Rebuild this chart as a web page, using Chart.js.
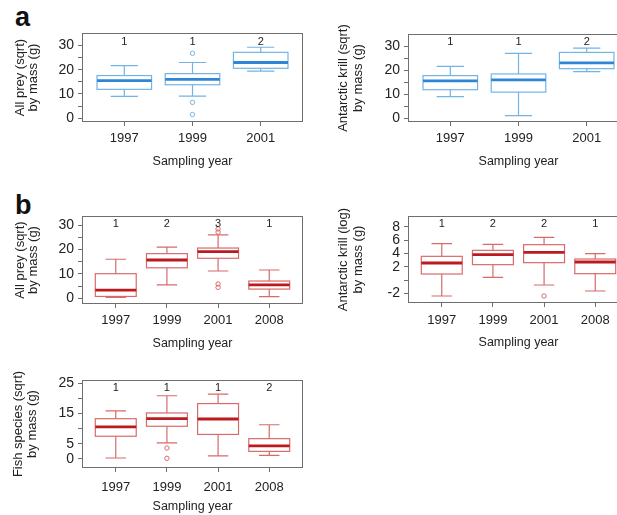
<!DOCTYPE html>
<html>
<head>
<meta charset="utf-8">
<script src="https://cdn.jsdelivr.net/npm/chart.js@4.4.1/dist/chart.umd.min.js"></script>
<style>
html, body { margin:0; padding:0; width:617px; height:515px; overflow:hidden; background:#fff; }
canvas { position:absolute; }
.lab { position:absolute; font-family:"Liberation Sans", Arial, sans-serif; font-weight:bold; font-size:27px; line-height:27px; color:#111; }
</style>
</head>
<body>
<div class="lab" style="left:15px; top:4px;">a</div>
<div class="lab" style="left:15px; top:192px;">b</div>
<canvas id="c1" width="310" height="175" style="left:0px; top:0px;"></canvas>
<canvas id="c2" width="320" height="175" style="left:320px; top:0px;"></canvas>
<canvas id="c3" width="310" height="167" style="left:0px; top:190px;"></canvas>
<canvas id="c4" width="320" height="167" style="left:320px; top:190px;"></canvas>
<canvas id="c5" width="310" height="155" style="left:0px; top:360px;"></canvas>
<script>
// ---------- data ----------
const catsA = ['1997', '1999', '2001'];
const catsB = ['1997', '1999', '2001', '2008'];

// panel a: all prey (sqrt)
const aPreyLow  = [9.0, 9.1, 19.4];
const aPreyQ1   = [11.9, 13.8, 20.6];
const aPreyMed  = [15.5, 16.0, 23.0];
const aPreyQ3   = [17.6, 18.4, 27.2];
const aPreyHigh = [21.7, 23.0, 29.3];
const aPreyOutCat = ['1999', '1999', '1999'];
const aPreyOutVal = [26.8, 6.5, 1.5];
const aPreyGroups = ['1', '1', '2'];

// panel a: Antarctic krill (sqrt)
const aKrillLow  = [9.0, 1.1, 19.5];
const aKrillQ1   = [11.9, 10.9, 20.7];
const aKrillMed  = [15.6, 16.0, 23.1];
const aKrillQ3   = [17.8, 18.5, 27.5];
const aKrillHigh = [21.7, 27.1, 29.3];
const aKrillOutCat = [];
const aKrillOutVal = [];
const aKrillGroups = ['1', '1', '2'];

// panel b: all prey (sqrt)
const bPreyLow  = [0.4, 5.5, 11.2, 0.7];
const bPreyQ1   = [0.8, 12.5, 16.4, 3.8];
const bPreyMed  = [3.4, 15.7, 19.1, 5.5];
const bPreyQ3   = [10.1, 18.3, 20.6, 7.1];
const bPreyHigh = [16.0, 21.0, 26.0, 11.6];
const bPreyOutCat = ['2001', '2001', '2001', '2001'];
const bPreyOutVal = [28.4, 27.1, 5.9, 4.5];
const bPreyGroups = ['1', '2', '3', '1'];

// panel b: Antarctic krill (log)
const bKrillLow  = [-2.4, 0.4, -0.75, -1.65];
const bKrillQ1   = [0.9, 2.3, 2.6, 0.95];
const bKrillMed  = [2.55, 3.8, 4.15, 2.7];
const bKrillQ3   = [3.55, 4.45, 5.3, 3.15];
const bKrillHigh = [5.45, 5.35, 6.4, 3.95];
const bKrillOutCat = ['2001'];
const bKrillOutVal = [-2.4];
const bKrillGroups = ['1', '2', '2', '1'];

// panel b: fish species (sqrt)
const fishLow  = [0.3, 5.3, 1.0, 1.2];
const fishQ1   = [7.5, 10.8, 8.1, 2.5];
const fishMed  = [10.6, 13.3, 13.2, 4.3];
const fishQ3   = [13.3, 15.2, 18.3, 6.7];
const fishHigh = [15.9, 20.9, 21.4, 11.3];
const fishOutCat = ['1999', '1999'];
const fishOutVal = [3.6, 0.2];
const fishGroups = ['1', '1', '1', '2'];

// y axis ticks
const yTicksSqrt30 = [0, 5, 10, 15, 20, 25, 30];
const yLabelsSqrt30 = ['0', '', '10', '', '20', '', '30'];
const yTicksLog = [-2, 0, 2, 4, 6, 8];
const yLabelsLog = ['-2', '', '2', '4', '6', '8'];
const yTicksFish = [0, 5, 10, 15, 20, 25];
const yLabelsFish = ['0', '5', '', '15', '', '25'];

// ---------- styling ----------
const FONT = '"Liberation Sans", Arial, Helvetica, sans-serif';
const BLUE = { box: '#72b4e6', med: '#2f86d6' };
const RED  = { box: '#d76b6b', med: '#bb1a1f' };
const AXIS = '#6e6e6e';
const TXT  = '#222';

const boxPlugin = {
  id: 'boxes',
  afterDatasetsDraw(chart) {
    const o = chart.options.plugins.boxes;
    const xs = chart.scales.x, ys = chart.scales.y;
    const ctx = chart.ctx;
    const step = xs.getPixelForValue(2) - xs.getPixelForValue(1);
    const bw = 0.8 * step, cw = bw / 2;
    ctx.save();
    for (let i = 0; i < o.cats.length; i++) {
      const cx = xs.getPixelForValue(i + 1);
      const yl = ys.getPixelForValue(o.low[i]);
      const y1 = ys.getPixelForValue(o.q1[i]);
      const ym = ys.getPixelForValue(o.med[i]);
      const y3 = ys.getPixelForValue(o.q3[i]);
      const yh = ys.getPixelForValue(o.high[i]);
      ctx.strokeStyle = o.color.box;
      ctx.lineWidth = 1.2;
      ctx.beginPath();
      ctx.moveTo(cx, y3); ctx.lineTo(cx, yh);
      ctx.moveTo(cx, y1); ctx.lineTo(cx, yl);
      ctx.moveTo(cx - cw / 2, yh); ctx.lineTo(cx + cw / 2, yh);
      ctx.moveTo(cx - cw / 2, yl); ctx.lineTo(cx + cw / 2, yl);
      ctx.stroke();
      ctx.strokeRect(cx - bw / 2, y3, bw, y1 - y3);
      ctx.strokeStyle = o.color.med;
      ctx.lineWidth = 2.8;
      ctx.beginPath();
      ctx.moveTo(cx - bw / 2, ym); ctx.lineTo(cx + bw / 2, ym);
      ctx.stroke();
    }
    // group letters
    ctx.fillStyle = TXT;
    ctx.font = '11px ' + FONT;
    ctx.textAlign = 'center';
    ctx.textBaseline = 'middle';
    const ty = chart.chartArea.top + o.groupOffset;
    for (let i = 0; i < o.groups.length; i++) {
      ctx.fillText(o.groups[i], xs.getPixelForValue(i + 1), ty);
    }
    ctx.restore();
  },
  afterDraw(chart) {
    const a = chart.chartArea, ctx = chart.ctx;
    ctx.save();
    ctx.strokeStyle = AXIS;
    ctx.lineWidth = 1;
    ctx.strokeRect(Math.round(a.left) + 0.5, Math.round(a.top) + 0.5,
                   Math.round(a.right - a.left) - 1, Math.round(a.bottom - a.top) - 1);
    ctx.restore();
  }
};

function makeChart(id, cfg) {
  const n = cfg.cats.length;
  const outData = cfg.outCat.map((c, i) => ({ x: cfg.cats.indexOf(c) + 1, y: cfg.outVal[i] }));
  return new Chart(document.getElementById(id), {
    type: 'scatter',
    data: {
      datasets: [{
        data: outData,
        pointStyle: 'circle',
        pointRadius: 2.2,
        pointHoverRadius: 2.2,
        borderWidth: 1,
        borderColor: cfg.color.box,
        backgroundColor: 'rgba(0,0,0,0)'
      }]
    },
    options: {
      responsive: false,
      animation: false,
      devicePixelRatio: 1,
      layout: { padding: { top: cfg.padTop, right: cfg.padRight, left: 0, bottom: 0 } },
      plugins: {
        legend: { display: false },
        tooltip: { enabled: false },
        boxes: {
          cats: cfg.cats, low: cfg.low, q1: cfg.q1, med: cfg.med, q3: cfg.q3, high: cfg.high,
          color: cfg.color, groups: cfg.groups, groupOffset: cfg.groupOffset
        }
      },
      scales: {
        x: {
          type: 'linear',
          min: 0.5 - 0.04 * n,
          max: n + 0.5 + 0.04 * n,
          afterBuildTicks: (s) => { s.ticks = cfg.cats.map((c, i) => ({ value: i + 1 })); },
          afterFit: (s) => { s.height = cfg.xH; },
          ticks: {
            callback: (v) => cfg.cats[Math.round(v) - 1],
            color: TXT, font: { family: FONT, size: 13 }, padding: cfg.xPad,
            maxRotation: 0, autoSkip: false
          },
          grid: { display: true, drawOnChartArea: false, drawTicks: true, tickLength: 4, color: AXIS },
          border: { display: false },
          title: {
            display: true, text: 'Sampling year', color: TXT,
            font: { family: FONT, size: 12.5, lineHeight: 1.1 },
            padding: { top: 0, bottom: cfg.xTitlePad }
          }
        },
        y: {
          type: 'linear',
          min: cfg.yMin, max: cfg.yMax,
          afterBuildTicks: (s) => { s.ticks = cfg.yTicks.map(v => ({ value: v })); },
          afterFit: (s) => { s.width = cfg.yW; },
          ticks: {
            callback: (v) => { const k = cfg.yTicks.indexOf(v); return k >= 0 ? cfg.yLabels[k] : ''; },
            color: TXT, font: { family: FONT, size: 14 }, padding: 4, autoSkip: false
          },
          grid: { display: true, drawOnChartArea: false, drawTicks: true, tickLength: 4, color: AXIS },
          border: { display: false },
          title: {
            display: true, text: cfg.yTitle, color: TXT,
            font: { family: FONT, size: 13, lineHeight: cfg.yTitleLH },
            padding: { top: cfg.yTitlePad, bottom: 0 }
          }
        }
      }
    },
    plugins: [boxPlugin]
  });
}

makeChart('c1', {
  cats: catsA, low: aPreyLow, q1: aPreyQ1, med: aPreyMed, q3: aPreyQ3, high: aPreyHigh,
  outCat: aPreyOutCat, outVal: aPreyOutVal, groups: aPreyGroups, color: BLUE,
  yMin: -1.6, yMax: 35.2, yTicks: yTicksSqrt30, yLabels: yLabelsSqrt30,
  yTitle: ['All prey (sqrt)', 'by mass (g)'], yTitleLH: 1.05,
  padTop: 33, padRight: 7, yW: 82, xH: 53, xPad: 5, xTitlePad: 7, yTitlePad: 13.3, groupOffset: 8.5
});
makeChart('c2', {
  cats: catsA, low: aKrillLow, q1: aKrillQ1, med: aKrillMed, q3: aKrillQ3, high: aKrillHigh,
  outCat: aKrillOutCat, outVal: aKrillOutVal, groups: aKrillGroups, color: BLUE,
  yMin: -1.6, yMax: 35.2, yTicks: yTicksSqrt30, yLabels: yLabelsSqrt30,
  yTitle: ['Antarctic krill (sqrt)', 'by mass (g)'], yTitleLH: 1.2,
  padTop: 34, padRight: 11, yW: 88, xH: 53, xPad: 5, xTitlePad: 7, yTitlePad: 15.2, groupOffset: 7.5
});
makeChart('c3', {
  cats: catsB, low: bPreyLow, q1: bPreyQ1, med: bPreyMed, q3: bPreyQ3, high: bPreyHigh,
  outCat: bPreyOutCat, outVal: bPreyOutVal, groups: bPreyGroups, color: RED,
  yMin: -2.3, yMax: 33.7, yTicks: yTicksSqrt30, yLabels: yLabelsSqrt30,
  yTitle: ['All prey (sqrt)', 'by mass (g)'], yTitleLH: 1.05,
  padTop: 26, padRight: 7, yW: 82, xH: 53, xPad: 5, xTitlePad: 7, yTitlePad: 13.3, groupOffset: 7.5
});
makeChart('c4', {
  cats: catsB, low: bKrillLow, q1: bKrillQ1, med: bKrillMed, q3: bKrillQ3, high: bKrillHigh,
  outCat: bKrillOutCat, outVal: bKrillOutVal, groups: bKrillGroups, color: RED,
  yMin: -3.45, yMax: 9.6, yTicks: yTicksLog, yLabels: yLabelsLog,
  yTitle: ['Antarctic krill (log)', 'by mass (g)'], yTitleLH: 1.2,
  padTop: 26, padRight: 11, yW: 88, xH: 54, xPad: 5.8, xTitlePad: 8, yTitlePad: 15.2, groupOffset: 7.5
});
makeChart('c5', {
  cats: catsB, low: fishLow, q1: fishQ1, med: fishMed, q3: fishQ3, high: fishHigh,
  outCat: fishOutCat, outVal: fishOutVal, groups: fishGroups, color: RED,
  yMin: -3.0, yMax: 26.1, yTicks: yTicksFish, yLabels: yLabelsFish,
  yTitle: ['Fish species (sqrt)', 'by mass (g)'], yTitleLH: 1.1,
  padTop: 20, padRight: 7, yW: 82, xH: 47, xPad: 7.5, xTitlePad: 2, yTitlePad: 11, groupOffset: 7.5
});
</script>
</body>
</html>
